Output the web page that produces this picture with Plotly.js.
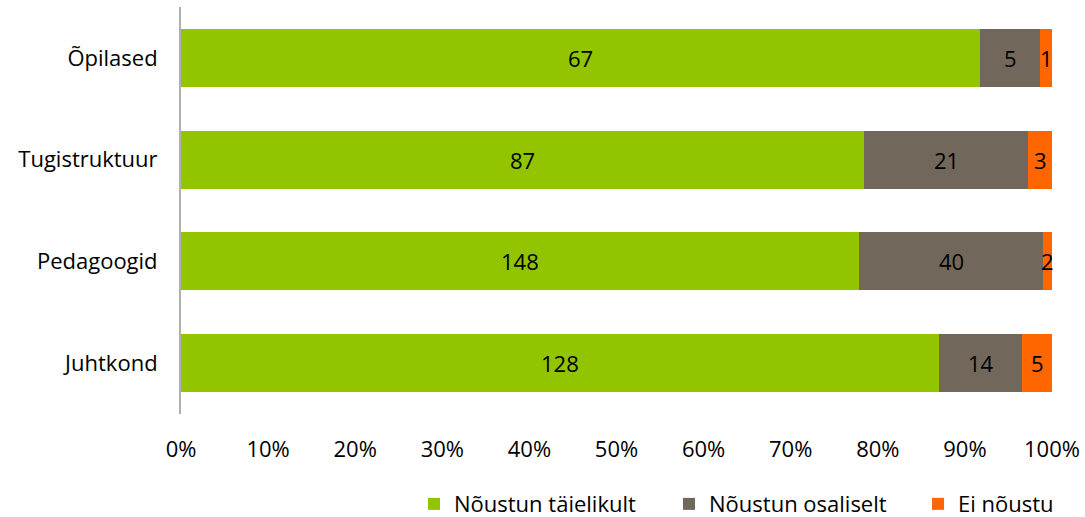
<!DOCTYPE html>
<html>
<head>
<meta charset="utf-8">
<script src="https://cdn.plot.ly/plotly-3.0.1.min.js"></script>
<style>html,body{margin:0;padding:0;background:#fff;}#chart{width:1085px;height:517px;}</style>
</head>
<body>
<div id="chart"></div>
<script>
const categories = ['Õpilased', 'Tugistruktuur', 'Pedagoogid', 'Juhtkond'];
const seriesNames = ['Nõustun täielikult', 'Nõustun osaliselt', 'Ei nõustu'];
const fullyAgree = [67, 87, 148, 128];
const partlyAgree = [5, 21, 40, 14];
const disagree = [1, 3, 2, 5];
const xTickVals = [0, 10, 20, 30, 40, 50, 60, 70, 80, 90, 100];
const xTickText = ['0%', '10%', '20%', '30%', '40%', '50%', '60%', '70%', '80%', '90%', '100%'];
const colors = ['#92C400', '#71685B', '#FF6600'];

const values = [fullyAgree, partlyAgree, disagree];
const FONT = '"Open Sans", sans-serif';
const FS = 22;
const legendIds = ['legend', 'legend2', 'legend3'];
const legendX = [0.2675, 0.5603, 0.8462];

const traces = values.map((v, i) => ({
  type: 'bar',
  orientation: 'h',
  name: seriesNames[i],
  legend: legendIds[i],
  y: categories,
  x: v,
  marker: {color: colors[i]},
  hoverinfo: 'none'
}));

// value labels centred in each segment (positions in % of row total, via the x axis)
const annotations = [];
categories.forEach((c, k) => {
  const total = values.reduce((s, arr) => s + arr[k], 0);
  let cum = 0;
  values.forEach((arr) => {
    const pct = arr[k] / total * 100;
    annotations.push({
      x: cum + pct / 2, y: c, xref: 'x', yref: 'y',
      text: String(arr[k]), showarrow: false,
      font: {family: FONT, size: FS, color: '#000'},
      xanchor: 'center', yanchor: 'middle'
    });
    cum += pct;
  });
});

const layout = {
  width: 1085, height: 517,
  margin: {l: 181, r: 33, t: 7, b: 103},
  barmode: 'stack',
  barnorm: 'percent',
  bargap: 0.43,
  paper_bgcolor: '#fff',
  plot_bgcolor: '#fff',
  font: {family: FONT, size: FS, color: '#000'},
  annotations: annotations,
  showlegend: true,
  xaxis: {
    range: [0, 100],
    tickvals: xTickVals,
    ticktext: xTickText,
    showgrid: false,
    zeroline: false,
    showline: false,
    ticks: '',
    ticklabelstandoff: 20,
    tickfont: {family: FONT, size: FS, color: '#000'},
    fixedrange: true
  },
  yaxis: {
    categoryorder: 'array',
    categoryarray: categories,
    autorange: 'reversed',
    showgrid: false,
    zeroline: false,
    showline: true,
    linecolor: '#B0B0B0',
    linewidth: 2,
    ticks: '',
    ticklabelstandoff: 17,
    tickfont: {family: FONT, size: FS, color: '#000'},
    fixedrange: true
  }
};
legendIds.forEach((id, i) => {
  layout[id] = {
    orientation: 'h',
    xref: 'paper', yref: 'container',
    x: legendX[i], y: 0.025,
    xanchor: 'left', yanchor: 'middle',
    font: {family: FONT, size: FS, color: '#000'},
    bgcolor: 'rgba(0,0,0,0)'
  };
});

Plotly.newPlot('chart', traces, layout, {displayModeBar: false, staticPlot: true});
</script>
</body>
</html>
